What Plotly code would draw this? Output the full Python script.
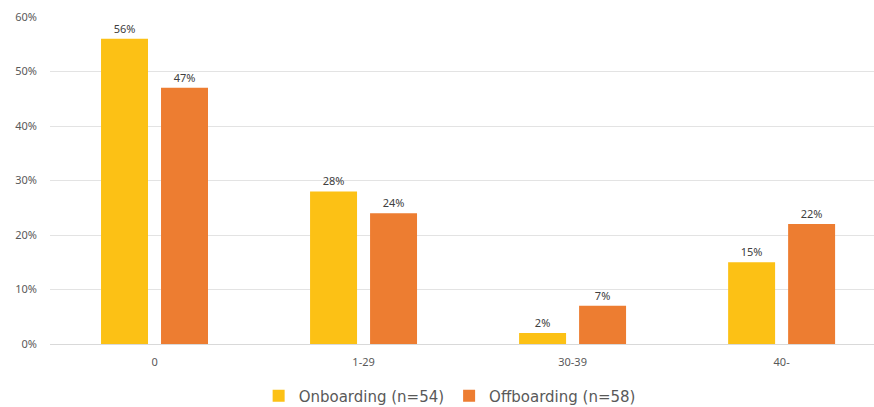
import plotly.graph_objects as go

# Share of respondents per bracket
categories = ["0", "1-29", "30-39", "40-"]
onboarding = [56, 28, 2, 15]
offboarding = [47, 24, 7, 22]
series_names = ["Onboarding (n=54)", "Offboarding (n=58)"]
y_ticks = [0, 10, 20, 30, 40, 50, 60]

YELLOW = "#FCC115"
ORANGE = "#ED7D31"
GREY_TEXT = "#595959"
FONT = "Noto Sans"

fig = go.Figure()
for name, vals, color in [(series_names[0], onboarding, YELLOW),
                          (series_names[1], offboarding, ORANGE)]:
    fig.add_trace(go.Bar(
        x=categories, y=vals, name=name,
        marker=dict(color=color, line=dict(width=0)),
        text=[f"{v}%" for v in vals],
        textposition="outside",
        textfont=dict(family=FONT, size=11, color="#404040"),
        cliponaxis=False,
    ))

fig.update_layout(
    width=874, height=407,
    margin=dict(l=50, r=0, t=17, b=63, autoexpand=False),
    paper_bgcolor="white", plot_bgcolor="white",
    barmode="group", bargap=0.426, bargroupgap=0.217,
    font=dict(family=FONT, color=GREY_TEXT, size=11),
    showlegend=True,
    legend=dict(orientation="h", x=0.485, xanchor="center", y=-0.159, yanchor="middle",
                font=dict(family="DejaVu Sans", size=15, color=GREY_TEXT),
                itemwidth=30, traceorder="normal"),
    xaxis=dict(range=[-0.5, 3.442], showgrid=False, showline=False, zeroline=False,
               ticks="", ticklabelstandoff=10, tickfont=dict(size=11, color=GREY_TEXT)),
    yaxis=dict(range=[0, 60], tickvals=y_ticks, ticktext=[f"{t}%" for t in y_ticks],
               showgrid=True, gridcolor="#E3E3E3", gridwidth=1,
               zeroline=True, zerolinecolor="#D9D9D9", zerolinewidth=1,
               showline=False, ticks="", ticklabelstandoff=12,
               tickfont=dict(size=11, color=GREY_TEXT)),
)

fig.write_html("out.html")
